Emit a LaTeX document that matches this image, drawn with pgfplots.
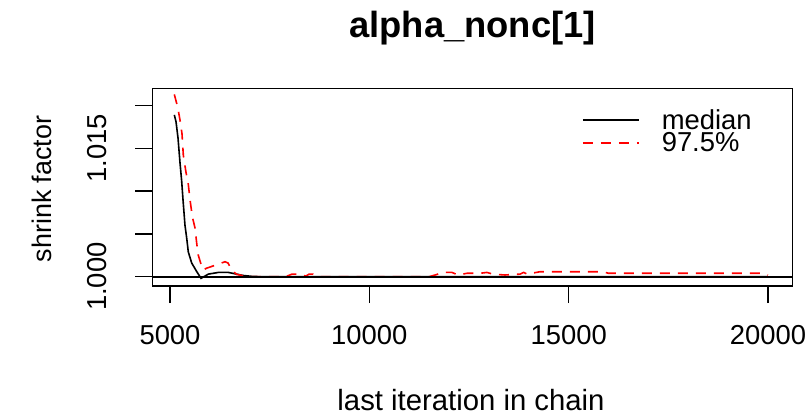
\documentclass[border=0pt]{standalone}
\usepackage{fontspec}
\setmainfont{Liberation Sans}
\usepackage{pgfplots}
\pgfplotsset{compat=1.18}
\begin{document}
\begin{tikzpicture}
\path[use as bounding box] (0,0) rectangle (807bp,417bp);
\begin{axis}[
  scale only axis,
  width=640.4bp, height=197.7bp,
  at={(152.3bp,131bp)}, anchor=south west,
  xmin=4556, xmax=20620,
  ymin=0.998914, ymax=1.022009,
  axis line style={line width=1.3bp},
  tick style={black, line width=1.3bp},
  tick align=outside,
  xtick pos=bottom, ytick pos=left,
  major tick length=17bp,
  scaled x ticks=false, scaled y ticks=false,
  xtick={5000,10000,15000,20000},
  xticklabels={5000,10000,15000,20000},
  ytick={1,1.005,1.01,1.015,1.02},
  yticklabels={1.000,,,1.015,},
  xticklabel style={anchor=center, yshift=-32bp, font=\fontsize{27.5}{27.5}\selectfont},
  yticklabel style={rotate=90, anchor=south, font=\fontsize{27.5}{27.5}\selectfont},
  yticklabel shift=25bp,
  legend style={draw=none, fill=none, at={(axis cs:15334,1.01971)}, anchor=north west,
    font=\fontsize{27.5}{27.5}\selectfont, row sep=0bp, inner sep=0pt,
    nodes={inner sep=1bp}},
  legend cell align=left,
  legend image code/.code={\draw[#1] (0bp,0bp) -- (56bp,0bp);},
  /tikz/every odd column/.append style={column sep=21bp},
  clip=true,
]
\addplot[black, line width=1.6bp] coordinates {
(5108,1.0189) (5151,1.0181) (5201,1.0162) (5251,1.0133) (5294,1.0111) (5326,1.0090)
(5376,1.0060) (5419,1.0045) (5459,1.0029) (5544,1.0016) (5670,1.0006) (5778,0.99981)
(5961,1.0003) (6212,1.0005) (6463,1.0005) (6673,1.0003) (6839,1.00014) (7100,1.00002)
(8000,1.0) (10000,1.0) (12000,1.0) (14000,1.0) (16000,1.0) (18000,1.0) (20000,1.0)
};
\addlegendentry{median}
\addplot[red, line width=1.6bp, dash pattern=on 10bp off 8bp] coordinates {
(5108,1.0213) (5193,1.0198) (5251,1.0183) (5301,1.0167) (5334,1.0142) (5401,1.0122)
(5459,1.0108) (5502,1.0090) (5560,1.0070) (5627,1.0057) (5670,1.0039) (5710,1.0025)
(5795,1.0012) (5836,1.0008) (5921,1.0010) (6172,1.0014) (6380,1.00175) (6455,1.0016)
(6548,1.0008) (6673,1.00026) (6756,1.0002) (6900,1.0000) (7900,1.0000) (8060,1.0003)
(8310,1.0003) (8400,1.00005) (8490,1.0003) (8590,1.0003) (8700,1.0000) (11500,1.0000)
(11650,1.0002) (11850,1.0005) (12070,1.0005) (12230,1.0002) (12450,1.0004) (12780,1.0004)
(12950,1.0005) (13100,1.0003) (13400,1.0002) (13780,1.0003) (13870,1.0005) (13960,1.0003)
(14280,1.00058) (15860,1.00058) (16000,1.0004) (19850,1.0004) (20000,1.0002)
};
\addlegendentry{97.5\%}
\addplot[black, line width=1.6bp, forget plot] coordinates {(4000,1) (21000,1)};
\end{axis}
\node[font=\fontsize{36.5}{36.5}\selectfont\bfseries] at (472.5bp,389bp) {alpha\_nonc[1]};
\node[font=\fontsize{29.4}{29.4}\selectfont] at (471bp,17bp) {last iteration in chain};
\node[font=\fontsize{27}{27}\selectfont, rotate=90] at (42bp,228bp) {shrink factor};
\end{tikzpicture}
\end{document}
